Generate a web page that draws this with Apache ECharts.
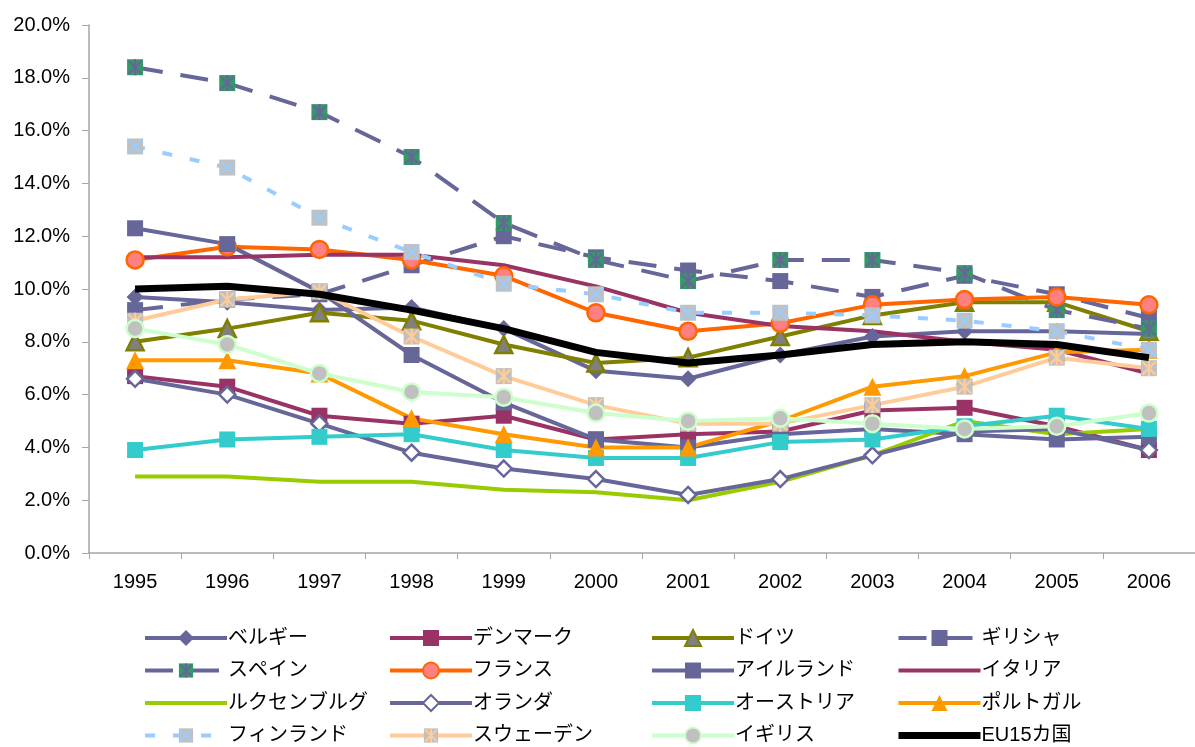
<!DOCTYPE html>
<html>
<head>
<meta charset="utf-8">
<script src="https://cdn.jsdelivr.net/npm/echarts@6/dist/echarts.min.js"></script>
<style>
  html, body { margin: 0; padding: 0; background: #fff; }
  #chart { width: 1195px; height: 747px; }
</style>
</head>
<body>
<div id="chart"></div>
<script>
// 年
const years = ['1995', '1996', '1997', '1998', '1999', '2000', '2001', '2002', '2003', '2004', '2005', '2006'];

// 失業率 (%)
const belgium     = [9.7, 9.5, 9.2, 9.3, 8.5, 6.9, 6.6, 7.5, 8.2, 8.4, 8.4, 8.3];
const denmark     = [6.7, 6.3, 5.2, 4.9, 5.2, 4.3, 4.5, 4.6, 5.4, 5.5, 4.8, 3.9];
const germany     = [8.0, 8.5, 9.1, 8.8, 7.9, 7.2, 7.4, 8.2, 9.0, 9.5, 9.5, 8.4];
const greece      = [9.2, 9.6, 9.8, 10.9, 12.0, 11.2, 10.7, 10.3, 9.7, 10.5, 9.8, 8.9];
const spain       = [18.4, 17.8, 16.7, 15.0, 12.5, 11.1, 10.3, 11.1, 11.1, 10.6, 9.2, 8.5];
const france      = [11.1, 11.6, 11.5, 11.1, 10.5, 9.1, 8.4, 8.7, 9.4, 9.6, 9.7, 9.4];
const ireland     = [12.3, 11.7, 9.9, 7.5, 5.7, 4.3, 4.0, 4.5, 4.7, 4.5, 4.3, 4.4];
const italy       = [11.2, 11.2, 11.3, 11.3, 10.9, 10.1, 9.1, 8.6, 8.4, 8.0, 7.7, 6.8];
const luxembourg  = [2.9, 2.9, 2.7, 2.7, 2.4, 2.3, 2.0, 2.7, 3.7, 5.0, 4.5, 4.7];
const netherlands = [6.6, 6.0, 4.9, 3.8, 3.2, 2.8, 2.2, 2.8, 3.7, 4.6, 4.7, 3.9];
const austria     = [3.9, 4.3, 4.4, 4.5, 3.9, 3.6, 3.6, 4.2, 4.3, 4.8, 5.2, 4.7];
const portugal    = [7.3, 7.3, 6.8, 5.1, 4.5, 4.0, 4.0, 5.0, 6.3, 6.7, 7.6, 7.7];
const finland     = [15.4, 14.6, 12.7, 11.4, 10.2, 9.8, 9.1, 9.1, 9.0, 8.8, 8.4, 7.7];
const sweden      = [8.8, 9.6, 9.9, 8.2, 6.7, 5.6, 4.9, 4.9, 5.6, 6.3, 7.4, 7.0];
const uk          = [8.5, 7.9, 6.8, 6.1, 5.9, 5.3, 5.0, 5.1, 4.9, 4.7, 4.8, 5.3];
const eu15        = [10.0, 10.1, 9.8, 9.2, 8.5, 7.6, 7.2, 7.5, 7.9, 8.0, 7.9, 7.4];

// 凡例の並び (列ごと)
const legendCols = [
  ['ベルギー', 'スペイン', 'ルクセンブルグ', 'フィンランド'],
  ['デンマーク', 'フランス', 'オランダ', 'スウェーデン'],
  ['ドイツ', 'アイルランド', 'オーストリア', 'イギリス'],
  ['ギリシャ', 'イタリア', 'ポルトガル', 'EU15カ国']
];
const legendLeft = [143, 388, 650, 895];
// マーカーなしの系列
const noMarker = ['イタリア', 'ルクセンブルグ', 'EU15カ国'];

const FONT = '"Liberation Sans", "Noto Sans CJK JP", sans-serif';

// Excelっぽい ×/＊ 付きマーカー
function svgMark(fill, stroke, star) {
  let path = 'M2.5 2.5L15.5 15.5M15.5 2.5L2.5 15.5';
  if (star) path += 'M9 1V17';
  const svg = "<svg xmlns='http://www.w3.org/2000/svg' width='18' height='18'>" +
    "<rect x='1' y='1' width='16' height='16' fill='" + fill + "'/>" +
    "<path d='" + path + "' stroke='" + stroke + "' stroke-width='2.2' fill='none'/></svg>";
  return 'image://data:image/svg+xml;charset=utf-8,' + encodeURIComponent(svg);
}

function line(name, data, color, opts) {
  opts = opts || {};
  return {
    name: name,
    type: 'line',
    data: data,
    symbol: opts.symbol || 'none',
    symbolSize: opts.size || 15,
    showSymbol: !!opts.symbol,
    lineStyle: { color: color, width: opts.width || 4, type: opts.dash || 'solid', cap: 'butt' },
    itemStyle: {
      color: opts.fill || color,
      borderColor: opts.border || color,
      borderWidth: opts.borderWidth || 0
    },
    emphasis: { disabled: true },
    z: opts.z || 2
  };
}

const chart = echarts.init(document.getElementById('chart'));

let option = {
  animation: false,
  backgroundColor: '#fff',
  textStyle: { fontFamily: FONT },
  grid: { left: 89, right: -16, top: 25, bottom: 194 },
  xAxis: {
    type: 'category',
    data: years,
    boundaryGap: true,
    axisLine: { lineStyle: { color: '#a6a6a6', width: 1.5 } },
    axisTick: { show: true, length: 6, lineStyle: { color: '#a6a6a6' } },
    axisLabel: { color: '#000', fontSize: 20, margin: 19, fontFamily: FONT }
  },
  yAxis: {
    type: 'value',
    min: 0,
    max: 20,
    interval: 2,
    splitLine: { show: false },
    axisLine: { show: true, lineStyle: { color: '#a6a6a6', width: 1.5 } },
    axisTick: { show: true, length: 7, lineStyle: { color: '#a6a6a6' } },
    axisLabel: {
      color: '#000', fontSize: 20, margin: 19, fontFamily: FONT,
      formatter: v => v.toFixed(1) + '%'
    }
  },
  legend: legendCols.map((names, i) => ({
    data: names.map(n => noMarker.includes(n) ? { name: n, itemStyle: { opacity: 0 } } : n),
    orient: 'vertical',
    left: legendLeft[i],
    top: 627,
    padding: 0,
    itemWidth: 82,
    itemHeight: 20,
    itemGap: 10.5,
    selectedMode: false,
    lineStyle: { width: 'inherit' },
    textStyle: { fontSize: 20, color: '#000', fontFamily: FONT, lineHeight: 22, padding: [0, 0, 0, -4] }
  })),
  series: [
    line('ベルギー', belgium, '#666699', { symbol: 'diamond', size: 17 }),
    line('デンマーク', denmark, '#993366', { symbol: 'rect', size: 16 }),
    line('ドイツ', germany, '#808000', { symbol: 'triangle', size: 17, fill: '#808080', border: '#808000', borderWidth: 2.5 }),
    line('ギリシャ', greece, '#666699', { symbol: 'rect', size: 16, dash: [28, 18] }),
    line('スペイン', spain, '#666699', { symbol: svgMark('#339966', '#666699', true), size: 18, dash: [28, 18] }),
    line('フランス', france, '#FF6600', { symbol: 'circle', size: 17, fill: '#FF8080', border: '#FF6600', borderWidth: 2.5 }),
    line('アイルランド', ireland, '#666699', { symbol: 'rect', size: 16 }),
    line('イタリア', italy, '#993366'),
    line('ルクセンブルグ', luxembourg, '#99CC00'),
    line('オランダ', netherlands, '#666699', { symbol: 'diamond', size: 16, fill: '#ffffff', border: '#666699', borderWidth: 2.5 }),
    line('オーストリア', austria, '#33CCCC', { symbol: 'rect', size: 16 }),
    line('ポルトガル', portugal, '#FF9900', { symbol: 'triangle', size: 18 }),
    line('フィンランド', finland, '#99CCFF', { symbol: svgMark('#C0C0C0', '#99CCFF', false), size: 18, dash: [10, 18] }),
    line('スウェーデン', sweden, '#FFCC99', { symbol: svgMark('#C0C0C0', '#FFCC99', true), size: 18 }),
    line('イギリス', uk, '#CCFFCC', { symbol: 'circle', size: 17, fill: '#C0C0C0', border: '#CCFFCC', borderWidth: 2.5 }),
    line('EU15カ国', eu15, '#000000', { width: 7, z: 3 })
  ]
};

chart.setOption(option);
</script>
</body>
</html>
